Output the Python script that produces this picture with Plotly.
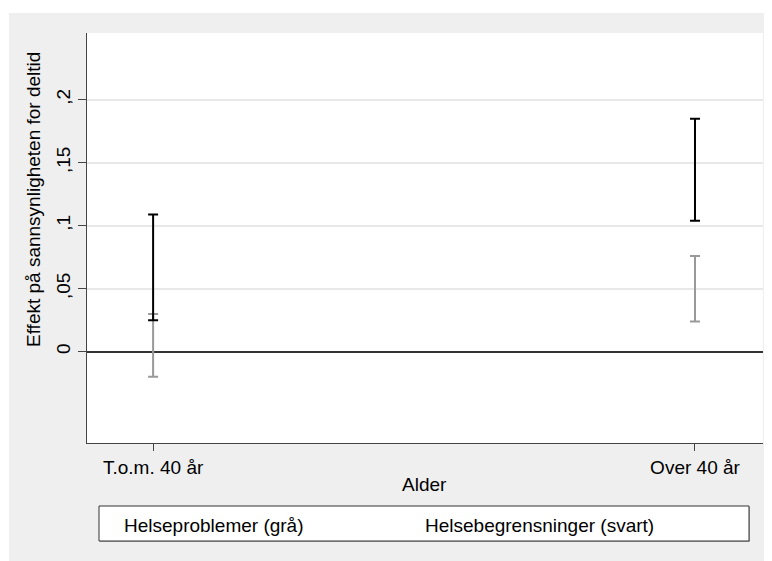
import plotly.graph_objects as go

# ---- data ----
categories = ["T.o.m. 40 år", "Over 40 år"]
cat_pos = [0, 1]
gray_low = [-0.020, 0.024]
gray_high = [0.030, 0.076]
black_low = [0.025, 0.104]
black_high = [0.109, 0.185]
ytick_vals = [0, 0.05, 0.1, 0.15, 0.2]
ytick_text = ["0", ",05", ",1", ",15", ",2"]
legend_labels = ["Helseproblemer (grå)", "Helsebegrensninger (svart)"]
x_title = "Alder"
y_title = "Effekt på sannsynligheten for deltid"

OFF = 8  # page body margin
VW, VH = 772, 561
W, H = VW - OFF, VH - OFF
# plot area in screen pixels
L, R, T, B = 87, 763, 33, 443
FONT = "Liberation Sans, Arial, sans-serif"
FS = 19


def px(xp):
    return (xp - L) / (R - L)


def py(yp):
    return (B - yp) / (B - T)


def rcap(low, high, color):
    mid = [(a + b) / 2 for a, b in zip(low, high)]
    half = [(b - a) / 2 for a, b in zip(low, high)]
    return go.Scatter(
        x=cat_pos, y=mid, mode="markers",
        marker=dict(size=0.1, color="rgba(0,0,0,0)"),
        error_y=dict(type="data", array=half, symmetric=True,
                     color=color, thickness=2, width=5),
        showlegend=False, hoverinfo="skip",
    )


fig = go.Figure()
fig.add_trace(rcap(gray_low, gray_high, "#999999"))
fig.add_trace(rcap(black_low, black_high, "#000000"))

shapes = [
    # white strips outside the gray graph region
    dict(type="rect", xref="paper", yref="paper", x0=px(-5), x1=px(9), y0=py(VH + 5), y1=py(-5),
         fillcolor="white", line=dict(width=0), layer="above"),
    dict(type="rect", xref="paper", yref="paper", x0=px(-5), x1=px(VW + 5), y0=py(13), y1=py(-5),
         fillcolor="white", line=dict(width=0), layer="above"),
    # legend box shadow and box
    dict(type="rect", xref="paper", yref="paper", x0=px(100), x1=px(750), y0=py(542), y1=py(507),
         fillcolor="#b0b0b0", line=dict(width=0), layer="above"),
    dict(type="rect", xref="paper", yref="paper", x0=px(99), x1=px(749), y0=py(541), y1=py(506),
         fillcolor="white", line=dict(color="#333333", width=1), layer="above"),
]

annotations = [
    dict(text=y_title, xref="paper", yref="paper", x=px(33), y=py(200),
         xanchor="center", yanchor="middle", textangle=-90, showarrow=False,
         font=dict(family=FONT, size=FS, color="black")),
    dict(text=x_title, xref="paper", yref="paper", x=px(424), y=py(484),
         xanchor="center", yanchor="middle", showarrow=False,
         font=dict(family=FONT, size=FS, color="black")),
    dict(text=legend_labels[0], xref="paper", yref="paper", x=px(122), y=py(525),
         xanchor="left", yanchor="middle", showarrow=False,
         font=dict(family=FONT, size=FS, color="black")),
    dict(text=legend_labels[1], xref="paper", yref="paper", x=px(423), y=py(525),
         xanchor="left", yanchor="middle", showarrow=False,
         font=dict(family=FONT, size=FS, color="black")),
]

fig.update_layout(
    width=W, height=H, autosize=False,
    margin=dict(l=L - OFF, r=VW - R, t=T - OFF, b=VH - B, pad=0),
    paper_bgcolor="#efefef", plot_bgcolor="white",
    font=dict(family=FONT, size=FS, color="black"),
    shapes=shapes, annotations=annotations,
    showlegend=False,
)
fig.update_xaxes(
    range=[-0.122, 1.1255], tickvals=cat_pos, ticktext=categories,
    showgrid=False, zeroline=False, showline=True, linecolor="#444444", linewidth=1,
    ticks="outside", ticklen=7, tickcolor="#444444", tickwidth=1,
    tickfont=dict(family=FONT, size=FS, color="black"),
)
fig.update_yaxes(
    range=[-0.0725, 0.253], tickvals=ytick_vals, ticktext=ytick_text, tickangle=-90,
    showgrid=True, gridcolor="#e8e8e8", gridwidth=1.5,
    zeroline=True, zerolinecolor="#333333", zerolinewidth=1.5,
    showline=True, linecolor="#444444", linewidth=1,
    ticks="outside", ticklen=8, tickcolor="#444444", tickwidth=1,
    tickfont=dict(family=FONT, size=FS, color="black"),
)

fig.write_html("out.html")
